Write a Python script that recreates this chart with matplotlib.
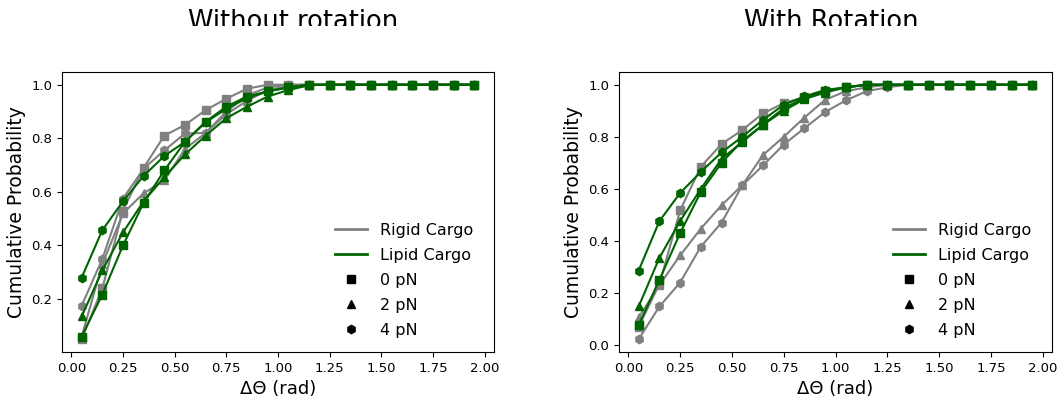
import matplotlib
matplotlib.use('Agg')
import matplotlib.pyplot as plt
from matplotlib.lines import Line2D
from matplotlib.patches import Rectangle

# bin centres of delta theta (rad)
dtheta = [0.05, 0.15, 0.25, 0.35, 0.45, 0.55, 0.65, 0.75, 0.85, 0.95,
          1.05, 1.15, 1.25, 1.35, 1.45, 1.55, 1.65, 1.75, 1.85, 1.95]

# without rotation
rigid_0_norot = [0.05, 0.24, 0.53, 0.69, 0.81, 0.85, 0.905, 0.948, 0.985, 1.0,
                 1.0, 1.0, 1.0, 1.0, 1.0, 1.0, 1.0, 1.0, 1.0, 1.0]
rigid_2_norot = [0.06, 0.33, 0.52, 0.595, 0.643, 0.76, 0.82, 0.89, 0.94, 0.98,
                 0.995, 1.0, 1.0, 1.0, 1.0, 1.0, 1.0, 1.0, 1.0, 1.0]
rigid_4_norot = [0.175, 0.35, 0.575, 0.687, 0.755, 0.818, 0.82, 0.9, 0.96, 0.99,
                 1.0, 1.0, 1.0, 1.0, 1.0, 1.0, 1.0, 1.0, 1.0, 1.0]
lipid_0_norot = [0.06, 0.217, 0.40, 0.56, 0.68, 0.787, 0.862, 0.918, 0.956, 0.975,
                 0.99, 1.0, 1.0, 1.0, 1.0, 1.0, 1.0, 1.0, 1.0, 1.0]
lipid_2_norot = [0.135, 0.307, 0.449, 0.565, 0.655, 0.74, 0.81, 0.875, 0.918, 0.956,
                 0.98, 0.998, 1.0, 1.0, 1.0, 1.0, 1.0, 1.0, 1.0, 1.0]
lipid_4_norot = [0.28, 0.457, 0.565, 0.66, 0.734, 0.787, 0.86, 0.91, 0.95, 0.975,
                 0.99, 1.0, 1.0, 1.0, 1.0, 1.0, 1.0, 1.0, 1.0, 1.0]

# with rotation
rigid_0_rot = [0.07, 0.234, 0.517, 0.685, 0.772, 0.826, 0.89, 0.929, 0.952, 0.977,
               0.99, 1.0, 1.0, 1.0, 1.0, 1.0, 1.0, 1.0, 1.0, 1.0]
rigid_2_rot = [0.106, 0.23, 0.344, 0.447, 0.537, 0.614, 0.73, 0.80, 0.874, 0.942,
               0.975, 0.99, 1.0, 1.0, 1.0, 1.0, 1.0, 1.0, 1.0, 1.0]
rigid_4_rot = [0.022, 0.148, 0.24, 0.378, 0.47, 0.613, 0.69, 0.77, 0.833, 0.895,
               0.94, 0.975, 0.99, 1.0, 1.0, 1.0, 1.0, 1.0, 1.0, 1.0]
lipid_0_rot = [0.077, 0.25, 0.43, 0.588, 0.70, 0.784, 0.846, 0.91, 0.949, 0.974,
               0.99, 1.0, 1.0, 1.0, 1.0, 1.0, 1.0, 1.0, 1.0, 1.0]
lipid_2_rot = [0.148, 0.335, 0.476, 0.60, 0.715, 0.78, 0.846, 0.90, 0.945, 0.97,
               0.99, 1.0, 1.0, 1.0, 1.0, 1.0, 1.0, 1.0, 1.0, 1.0]
lipid_4_rot = [0.286, 0.476, 0.584, 0.665, 0.74, 0.80, 0.865, 0.923, 0.955, 0.98,
               0.99, 1.0, 1.0, 1.0, 1.0, 1.0, 1.0, 1.0, 1.0, 1.0]

forces = ['0 pN', '2 pN', '4 pN']
markers = ['s', '^', 'h']
rigid_col = 'gray'
lipid_col = 'darkgreen'

panels = [
    ('Without rotation', [rigid_0_norot, rigid_2_norot, rigid_4_norot],
     [lipid_0_norot, lipid_2_norot, lipid_4_norot]),
    ('With Rotation', [rigid_0_rot, rigid_2_rot, rigid_4_rot],
     [lipid_0_rot, lipid_2_rot, lipid_4_rot]),
]

W, H = 1062, 399
fig = plt.figure(figsize=(W / 100, H / 100), dpi=100)
rects = [[62 / W, 47 / H, 432 / W, 280 / H],
         [619 / W, 47 / H, 433 / W, 280 / H]]
title_x = [293.5 / W, 831.7 / W]

for k, (title, rigid, lipid) in enumerate(panels):
    ax = fig.add_axes(rects[k])
    for ys, m in zip(rigid, markers):
        ax.plot(dtheta, ys, color=rigid_col, marker=m, markersize=6, lw=1.5)
    for ys, m in zip(lipid, markers):
        ax.plot(dtheta, ys, color=lipid_col, marker=m, markersize=6, lw=1.5)

    ax.set_xticks([0, 0.25, 0.5, 0.75, 1.0, 1.25, 1.5, 1.75, 2.0])
    ax.tick_params(labelsize=9.5)
    ax.set_xlabel('ΔΘ (rad)', fontsize=13)
    ax.set_ylabel('Cumulative Probability', fontsize=13.5)

    handles = [Line2D([], [], color=rigid_col, lw=2),
               Line2D([], [], color=lipid_col, lw=2)]
    for m in markers:
        handles.append(Line2D([], [], color='black', marker=m, ls='none', markersize=6))
    ax.legend(handles, ['Rigid Cargo', 'Lipid Cargo'] + forces, loc='lower right',
              bbox_to_anchor=(0.985, 0.0), frameon=False, fontsize=11.5,
              labelspacing=0.62)

    fig.text(title_x[k], (H - 29) / H, title, fontsize=18.5, ha='center', va='baseline')

# the titles are cut off along their bottom edge in the original
fig.patches.append(Rectangle((0, (H - 60) / H), 1, 34 / H, transform=fig.transFigure,
                             facecolor='white', edgecolor='none', zorder=10))

fig.savefig('out.png', dpi=100)
